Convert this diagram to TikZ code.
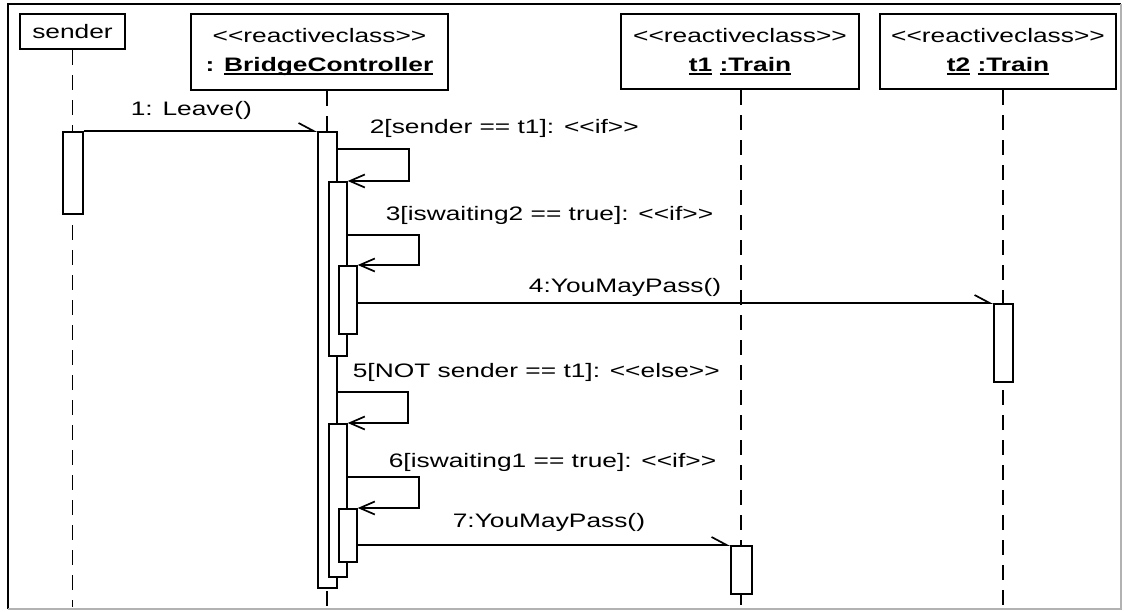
\documentclass[tikz,border=0pt]{standalone}
\usepackage{fontspec}
\newfontfamily\umlfont{Liberation Sans}[FakeStretch=1.35]
\usetikzlibrary{arrows.meta}
\newcommand\undl[1]{\setbox0\hbox{#1}\rlap{\rule[-3pt]{\wd0}{1.5pt}}\box0\relax}

\begin{document}
\begin{tikzpicture}[x=1pt,y=-1pt,line width=1.7pt,
  font=\umlfont\fontsize{19.5}{29}\selectfont,
  head/.style={draw,line width=2pt,align=center,inner sep=0pt,anchor=north west},
  act/.style={draw,fill=white,inner sep=0pt,anchor=north west},
  lifeline/.style={dash pattern=on 15pt off 10pt},
  async/.style={-{Straight Barb[left,length=15pt,width=16pt]}},
  selfcall/.style={-{Straight Barb[length=15pt,width=13pt]}},
  msg/.style={anchor=west,inner sep=0pt}]
  \useasboundingbox (0,0) rectangle (1124,611);
  \draw[line width=2.5pt] (8,609) -- (8,4) -- (1121,4);
  \draw[gray!60] (8,609) -- (1121,609) -- (1121,4);

  \node[head,minimum width=105pt,minimum height=35pt] (sender) at (19,13) {sender};
  \node[head,minimum width=257pt,minimum height=76pt] (ctrl) at (190,13)
    {<<reactiveclass>>\\\textbf{: \undl{BridgeController}}};
  \node[head,minimum width=238pt,minimum height=75pt] (t1) at (620,13)
    {<<reactiveclass>>\\\textbf{\undl{t1} \undl{:Train}}};
  \node[head,minimum width=236pt,minimum height=75pt] (t2) at (879,13)
    {<<reactiveclass>>\\\textbf{\undl{t2} \undl{:Train}}};

  \draw[lifeline] (sender.south) -- ++(0,557);
  \draw[lifeline] ([xshift=7.5pt]ctrl.south) -- ++(0,516);
  \draw[lifeline] ([xshift=1pt]t1.south) -- ++(0,517);
  \draw[lifeline] ([xshift=5pt]t2.south) -- ++(0,517);

  \node[act,minimum width=20pt,minimum height=82pt] (s1) at (62,131) {};
  \node[act,minimum width=19pt,minimum height=456pt] (c1) at (317,131) {};
  \node[act,minimum width=18pt,minimum height=174pt] (c2) at (328,181) {};
  \node[act,minimum width=18pt,minimum height=68pt] (c3) at (338,265) {};
  \node[act,minimum width=18pt,minimum height=153pt] (c4) at (328,423) {};
  \node[act,minimum width=18pt,minimum height=53pt] (c5) at (338,508) {};
  \node[act,minimum width=19pt,minimum height=78pt] (r2) at (993,303) {};
  \node[act,minimum width=21pt,minimum height=48pt] (r1) at (730,545) {};

  \draw[async] (s1.north east) -- (c1.north west);
  \draw[selfcall] ([yshift=-18pt]c1.north east) -- ++(71,0) |- (c2.north east);
  \draw[selfcall] ([yshift=-54pt]c2.north east) -- ++(71,0) |- (c3.north east);
  \draw[async] ([yshift=-38pt]c3.north east) -- (r2.north west);
  \draw[selfcall] ([yshift=-261pt]c1.north east) -- ++(70,0) |- (c4.north east);
  \draw[selfcall] ([yshift=-54pt]c4.north east) -- ++(71,0) |- (c5.north east);
  \draw[async] ([yshift=-37pt]c5.north east) -- (r1.north west);

  \node[msg] (m1) at (130,110) {1: Leave()};
  \node[msg] (m2) at (369,128) {2[sender == t1]: <<if>>};
  \node[msg] (m3) at (385,215) {3[iswaiting2 == true]: <<if>>};
  \node[msg,anchor=east] (m4) at (722,287) {4:YouMayPass()};
  \node[msg] (m5) at (352,372) {5[NOT sender == t1]: <<else>>};
  \node[msg] (m6) at (388,462) {6[iswaiting1 == true]: <<if>>};
  \node[msg] (m7) at (452,522) {7:YouMayPass()};
\end{tikzpicture}
\end{document}
